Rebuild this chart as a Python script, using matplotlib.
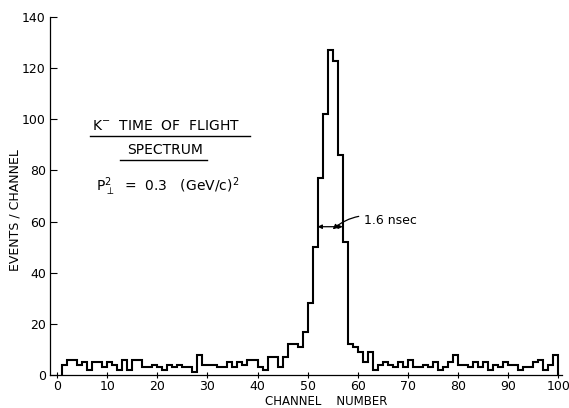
import numpy as np
import matplotlib
matplotlib.use("Agg")
import matplotlib.pyplot as plt

# Counts per channel, channels 1..99 (bin i spans [i, i+1])
channels = np.arange(1, 100)
counts = [
    4, 6, 6, 4, 5, 2, 5, 5, 3, 5,      # 1-10
    4, 2, 6, 2, 6, 6, 3, 3, 4, 3,      # 11-20
    2, 4, 3, 4, 3, 3, 1, 8, 4, 4,      # 21-30
    4, 3, 3, 5, 3, 5, 4, 6, 6, 3,      # 31-40
    2, 7, 7, 3, 7, 12, 12, 11, 17, 28,  # 41-50
    50, 77, 102, 127, 123, 86, 52, 12, 11, 9,  # 51-60
    5, 9, 2, 4, 5, 4, 3, 5, 3, 6,      # 61-70
    3, 3, 4, 3, 5, 2, 3, 5, 8, 4,      # 71-80
    4, 3, 5, 3, 5, 2, 4, 3, 5, 4,      # 81-90
    4, 2, 3, 3, 5, 6, 2, 4, 8,         # 91-99
]
x_ticks = [0, 10, 20, 30, 40, 50, 60, 70, 80, 90, 100]
y_ticks = [0, 20, 40, 60, 80, 100, 120, 140]

fig = plt.figure(figsize=(5.69, 4.08), dpi=100)
ax = fig.add_axes([0.088, 0.081, 0.90, 0.877])

edges = np.append(channels, channels[-1] + 1)
ax.stairs(counts, edges, color="black", linewidth=1.5, baseline=0)

ax.set_xlim(-1.4, 100.8)
ax.set_ylim(0, 140)
ax.set_xticks(x_ticks)
ax.set_yticks(y_ticks)
ax.tick_params(axis="x", direction="inout", length=5, width=0.8, labelsize=9, pad=1)
ax.tick_params(axis="y", direction="in", length=5, width=0.8, labelsize=9, pad=3)
for side in ["top", "right"]:
    ax.spines[side].set_visible(False)
for side in ["left", "bottom"]:
    ax.spines[side].set_linewidth(0.9)

ax.set_xlabel("CHANNEL    NUMBER", fontsize=8.5)
ax.xaxis.set_label_coords(0.54, -0.055)
ax.set_ylabel("EVENTS / CHANNEL", fontsize=9)
ax.yaxis.set_label_coords(-0.056, 0.46)

# Title block
ax.text(7, 97.5, r"K$^{-}$  TIME  OF  FLIGHT", fontsize=10, va="center", ha="left")
ax.plot([6.6, 38.4], [93.5, 93.5], color="black", lw=1.0)
ax.text(21.5, 88, "SPECTRUM", fontsize=10, va="center", ha="center")
ax.plot([12.5, 29.9], [84, 84], color="black", lw=1.0)
ax.text(7.8, 73.5, r"P$_{\perp}^{2}$  =  0.3   (GeV/c)$^{2}$", fontsize=10, va="center", ha="left")

# FWHM marker
ax.annotate("", xy=(52, 58), xytext=(57, 58),
            arrowprops=dict(arrowstyle="<|-|>", color="black", lw=0.9,
                            mutation_scale=6, shrinkA=0, shrinkB=0))
ax.annotate("1.6 nsec", xy=(55, 57), xytext=(61.3, 60.5), fontsize=9,
            va="center", ha="left",
            arrowprops=dict(arrowstyle="-|>", color="black", lw=0.9,
                            mutation_scale=7, shrinkA=2, shrinkB=0,
                            connectionstyle="arc3,rad=0.3"))

fig.savefig("out.png", dpi=100)
